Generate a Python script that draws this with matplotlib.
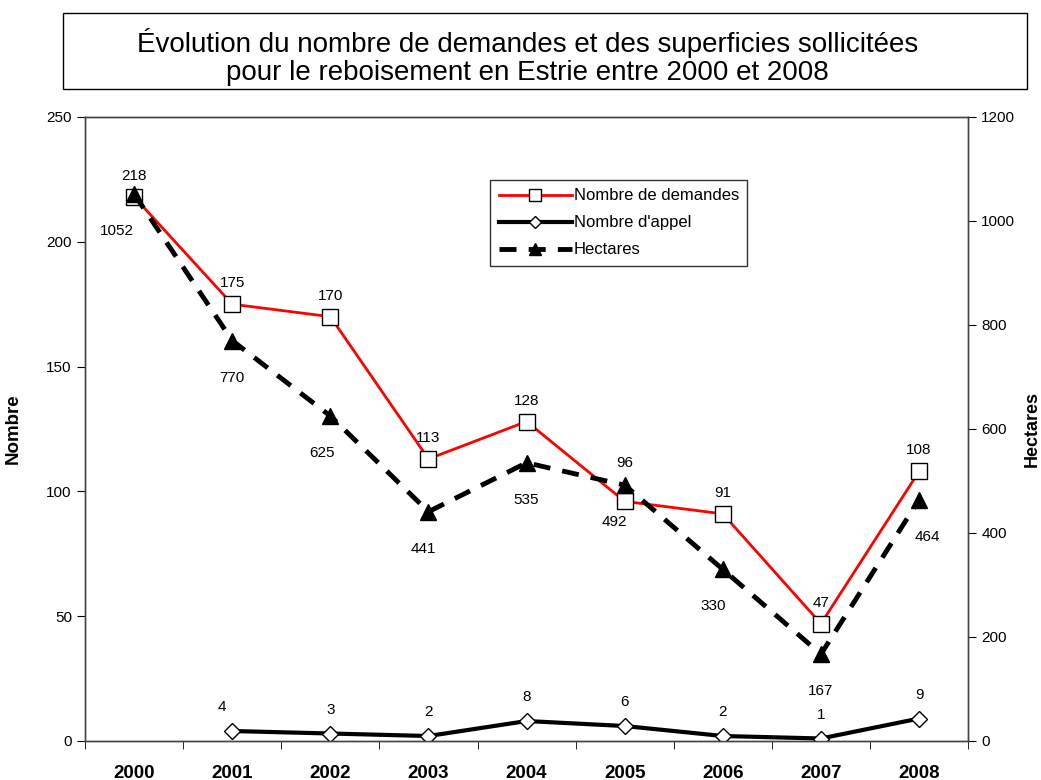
import matplotlib
matplotlib.use('Agg')
import matplotlib.pyplot as plt
from matplotlib.patches import Rectangle
import numpy as np

plt.rcParams['font.family'] = ['Liberation Sans', 'DejaVu Sans']

# Données
annees = ['2000', '2001', '2002', '2003', '2004', '2005', '2006', '2007', '2008']
demandes = [218, 175, 170, 113, 128, 96, 91, 47, 108]
appels = [np.nan, 4, 3, 2, 8, 6, 2, 1, 9]
hectares = [1052, 770, 625, 441, 535, 492, 330, 167, 464]

x = np.arange(len(annees))

fig = plt.figure(figsize=(10.41, 7.8), dpi=100)
ax = fig.add_axes([0.0817, 0.05, 0.8483, 0.80])
ax2 = ax.twinx()

# Titre dans un cadre
fig.patches.append(Rectangle((0.0605, 0.886), 0.926, 0.097, transform=fig.transFigure,
                             facecolor='white', edgecolor='black', linewidth=1))
fig.text(0.507, 0.927, 'Évolution du nombre de demandes et des superficies sollicitées\n'
         'pour le reboisement en Estrie entre 2000 et 2008',
         ha='center', va='center', fontsize=20, linespacing=1.08)

# Séries
l1, = ax.plot(x, demandes, color='red', linewidth=2, marker='s', markersize=11,
              markerfacecolor='white', markeredgecolor='black', markeredgewidth=1,
              label='Nombre de demandes', zorder=4)
l2, = ax.plot(x, appels, color='black', linewidth=3, marker='D', markersize=8,
              markerfacecolor='white', markeredgecolor='black', markeredgewidth=1,
              label="Nombre d'appel", zorder=4)
l3, = ax2.plot(x, hectares, color='black', linewidth=3.5, linestyle=(0, (3.5, 2.5)),
               marker='^', markersize=11, markerfacecolor='black',
               markeredgecolor='black', label='Hectares', zorder=3)

# Étiquettes
for i, v in enumerate(demandes):
    dy = 38 if i == 5 else 21
    ax.annotate(str(v), (x[i], v), xytext=(0, dy), textcoords='offset pixels',
                ha='center', va='center', fontsize=11)
for i, v in enumerate(appels):
    if np.isnan(v):
        continue
    dx = -10 if i == 1 else 0
    ax.annotate(str(int(v)), (x[i], v), xytext=(dx, 24), textcoords='offset pixels',
                ha='center', va='center', fontsize=11)
hx = [-17, 0, -8, -5, 0, -10, -10, 0, 8]
for i, v in enumerate(hectares):
    ax2.annotate(str(v), (x[i], v), xytext=(hx[i], -37), textcoords='offset pixels',
                 ha='center', va='center', fontsize=11)

# Axes
ax.set_xlim(-0.5, len(annees) - 0.5)
ax.set_ylim(0, 250)
ax2.set_ylim(0, 1200)
ax.set_yticks(np.arange(0, 251, 50))
ax2.set_yticks(np.arange(0, 1201, 200))
ax.set_xticks(x)
ax.set_xticklabels(annees, fontweight='bold', fontsize=13.5)
ax.set_xticks(np.arange(-0.5, len(annees)), minor=True)
ax.tick_params(axis='x', which='major', length=0, pad=17)
ax.tick_params(axis='x', which='minor', length=6, direction='out')
ax.tick_params(axis='y', labelsize=11, length=6, direction='out')
ax2.tick_params(axis='y', labelsize=11, length=6, direction='out')

ax.set_ylabel('Nombre', fontweight='bold', fontsize=13.5, labelpad=18)
ax2.set_ylabel('Hectares', fontweight='bold', fontsize=13, labelpad=6)

for a in (ax, ax2):
    for s in a.spines.values():
        s.set_color('#444444')
        s.set_linewidth(1)

leg = ax.legend(handles=[l1, l2, l3], loc='upper left', bbox_to_anchor=(0.459, 0.899),
                borderaxespad=0, frameon=True, fancybox=False, edgecolor='black',
                fontsize=12, handlelength=4.4, handletextpad=0.1, borderpad=0.5,
                labelspacing=0.72, markerscale=0.75)
leg.get_frame().set_linewidth(1)

plt.savefig('out.png', dpi=100)
